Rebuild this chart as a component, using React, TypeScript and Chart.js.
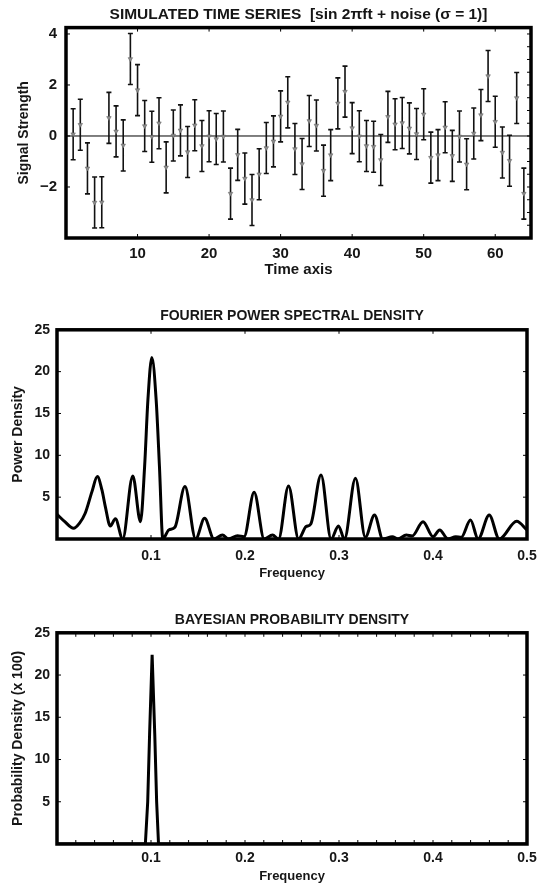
import React, { useEffect, useRef } from 'react';
import { Chart, registerables } from 'chart.js';

Chart.register(...registerables);

const FONT = "'Liberation Sans', Arial, Helvetica, sans-serif";
const INK = '#161616';

// ---------- Panel 1: simulated time series ----------
const TIME = [
  1, 2, 3, 4, 5, 6, 7, 8, 9, 10, 11, 12, 13, 14, 15, 16,
  17, 18, 19, 20, 21, 22, 23, 24, 25, 26, 27, 28, 29, 30, 31, 32,
  33, 34, 35, 36, 37, 38, 39, 40, 41, 42, 43, 44, 45, 46, 47, 48,
  49, 50, 51, 52, 53, 54, 55, 56, 57, 58, 59, 60, 61, 62, 63, 64,
];
const SIGNAL = [
  0.07, 0.44, -1.27, -2.61, -2.6, 0.71, 0.18, -0.37, 3.02, 1.8, 0.39, -0.03, 0.5, -1.23, 0.02, 0.22,
  -0.63, 0.42, -0.39, -0.01, -0.12, -0.02, -2.26, -0.74, -1.67, -2.51, -1.5, -0.47, -0.21, 0.77, 1.32, -0.51,
  -1.1, 0.59, 0.41, -1.36, -0.75, 1.28, 1.74, 0.31, -0.01, -0.39, -0.42, -0.94, 0.75, 0.46, 0.51, 0.3,
  0.08, 0.85, -0.85, -0.75, 0.34, -0.78, -0.02, -1.11, 0.1, 0.82, 2.35, 0.56, -0.65, -0.97, 1.49, -2.26,
];
const SIGMA = 1;
const TIME_TICKS = [10, 20, 30, 40, 50, 60];
const SIGNAL_TICKS = [-2, 0, 2, 4];
const SIGNAL_MINOR = [-3.5, -3, -2.5, -2, -1.5, -1, -0.5, 0, 0.5, 1, 1.5, 2, 2.5, 3, 3.5, 4];

// ---------- Panel 2: Fourier power spectral density ----------
const PSD_FREQ = [
  0, 0.008, 0.0176, 0.024, 0.03, 0.0372, 0.0429, 0.0478, 0.0514, 0.0567, 0.0621, 0.0699,
  0.0806, 0.0888, 0.0932, 0.0967, 0.1009, 0.1055, 0.109, 0.1126, 0.1189, 0.1254, 0.1361,
  0.1475, 0.157, 0.167, 0.176, 0.1826, 0.192, 0.199, 0.2097, 0.2204, 0.2293, 0.2357,
  0.2463, 0.257, 0.265, 0.27, 0.2809, 0.2916, 0.2994, 0.3058, 0.3175, 0.328, 0.3378,
  0.3466, 0.3567, 0.3627, 0.3716, 0.3778, 0.3894, 0.4, 0.4071, 0.416, 0.4242, 0.43,
  0.4399, 0.448, 0.4598, 0.4705, 0.489, 0.5,
];
const PSD_POWER = [
  2.95, 2.1, 1.28, 1.9, 3.07, 5.66, 7.46, 5.86, 3.87, 1.56, 2.43, 0,
  7.54, 2.07, 8.65, 16.6, 21.7, 16.6, 8.65, 0, 1.08, 1.4, 6.26,
  0, 2.47, 0, 0.48, 0, 0.4, 0.28, 5.58, 0, 0.48, 0,
  6.34, 0, 1.48, 1.8, 7.66, 0, 1.56, 0, 7.26, 0.2, 2.87,
  0, 0.28, 0, 0.48, 0.36, 2.07, 0.28, 1.08, 0, 0.28, 0.2,
  2.27, 0, 2.87, 0, 2.11, 1.08,
];

// ---------- Panel 3: Bayesian probability density ----------
const BAYES_FREQ = [0, 0.094, 0.0965, 0.0985, 0.1012, 0.104, 0.106, 0.108, 0.5];
const BAYES_PROB = [0, 0, 5, 13, 22.4, 13, 5, 0, 0];

const FREQ_TICKS = [0.1, 0.2, 0.3, 0.4, 0.5];
const FREQ_MINOR = [
  0.02, 0.04, 0.06, 0.08, 0.1, 0.12, 0.14, 0.16, 0.18, 0.2, 0.22, 0.24,
  0.26, 0.28, 0.3, 0.32, 0.34, 0.36, 0.38, 0.4, 0.42, 0.44, 0.46, 0.48,
];
const DENSITY_TICKS = [5, 10, 15, 20, 25];

// ---------- plugins ----------
const framePlugin = {
  id: 'frame',
  afterDatasetsDraw(chart: any, _args: any, opts: any) {
    const { ctx, chartArea, scales } = chart;
    const { left, right, top, bottom } = chartArea;
    const tl = opts.tickLen ?? 4;
    ctx.save();
    ctx.strokeStyle = '#000';
    ctx.lineWidth = 1;
    ctx.beginPath();
    for (const v of opts.xTop || []) {
      const px = scales.x.getPixelForValue(v);
      ctx.moveTo(px, top);
      ctx.lineTo(px, top + tl);
    }
    for (const v of opts.xBottom || []) {
      const px = scales.x.getPixelForValue(v);
      ctx.moveTo(px, bottom);
      ctx.lineTo(px, bottom - tl);
    }
    for (const v of opts.yLeft || []) {
      const py = scales.y.getPixelForValue(v);
      ctx.moveTo(left, py);
      ctx.lineTo(left + tl, py);
    }
    for (const v of opts.yRight || []) {
      const py = scales.y.getPixelForValue(v);
      ctx.moveTo(right, py);
      ctx.lineTo(right - tl, py);
    }
    ctx.stroke();
    ctx.lineWidth = 3.5;
    ctx.strokeRect(left, top, right - left, bottom - top);
    ctx.restore();
  },
};

const errorBarPlugin = {
  id: 'errorBars',
  beforeDatasetsDraw(chart: any) {
    const { ctx, chartArea, scales } = chart;
    const x = scales.x;
    const y = scales.y;
    ctx.save();
    ctx.strokeStyle = '#000';
    ctx.lineWidth = 1;
    const y0 = y.getPixelForValue(0);
    ctx.beginPath();
    ctx.moveTo(chartArea.left, y0);
    ctx.lineTo(chartArea.right, y0);
    ctx.stroke();
    ctx.strokeStyle = '#111';
    ctx.lineWidth = 1.6;
    ctx.beginPath();
    TIME.forEach((t, i) => {
      const px = x.getPixelForValue(t);
      const hi = y.getPixelForValue(SIGNAL[i] + SIGMA);
      const lo = y.getPixelForValue(SIGNAL[i] - SIGMA);
      ctx.moveTo(px, hi);
      ctx.lineTo(px, lo);
      ctx.moveTo(px - 2.5, hi);
      ctx.lineTo(px + 2.5, hi);
      ctx.moveTo(px - 2.5, lo);
      ctx.lineTo(px + 2.5, lo);
    });
    ctx.stroke();
    ctx.restore();
  },
};

const font = (size: number) => ({ family: FONT, size, weight: 'bold' as const });
const setTicks = (values: number[]) => (scale: any) => {
  scale.ticks = values.map((v) => ({ value: v }));
};
const minusFmt = (v: any) => (Number(v) < 0 ? '\u2212' + Math.abs(Number(v)) : String(v));
const fixHeight = (h: number) => (s: any) => {
  s.height = h;
  s.paddingLeft = 0;
  s.paddingRight = 0;
};
const fixWidth = (w: number) => (s: any) => {
  s.width = w;
  s.paddingTop = 0;
  s.paddingBottom = 0;
};

function makeTimeSeries(): any {
  return {
    type: 'scatter',
    data: {
      datasets: [
        {
          data: TIME.map((t, i) => ({ x: t, y: SIGNAL[i] })),
          pointStyle: 'triangle',
          rotation: 180,
          pointRadius: 2.6,
          backgroundColor: '#8c8c8c',
          borderColor: '#6a6a6a',
          borderWidth: 0.6,
        },
      ],
    },
    options: {
      animation: false,
      responsive: false,
      devicePixelRatio: 1,
      layout: { padding: { top: 0, left: 0, right: 7, bottom: 0 } },
      plugins: {
        legend: { display: false },
        tooltip: { enabled: false },
        title: {
          display: true,
          fullSize: false,
          text: 'SIMULATED TIME SERIES  [sin 2\u03C0ft + noise (\u03C3 = 1)]',
          color: INK,
          font: font(15.5),
          padding: { top: 5, bottom: 4 },
        },
        frame: {
          xTop: TIME_TICKS,
          xBottom: TIME_TICKS,
          yLeft: SIGNAL_TICKS,
          yRight: SIGNAL_MINOR,
          tickLen: 4,
        },
      },
      scales: {
        x: {
          type: 'linear',
          min: 0,
          max: 65,
          grid: { display: false, drawTicks: false },
          border: { display: false },
          afterBuildTicks: setTicks(TIME_TICKS),
          afterFit: fixHeight(47),
          ticks: { padding: 7, color: INK, font: font(15), autoSkip: false, maxRotation: 0 },
          title: { display: true, text: 'Time axis', color: INK, font: font(15), padding: { top: 0, bottom: 6 } },
        },
        y: {
          type: 'linear',
          min: -4,
          max: 4.25,
          grid: { display: false, drawTicks: false },
          border: { display: false },
          afterBuildTicks: setTicks(SIGNAL_TICKS),
          afterFit: fixWidth(66),
          ticks: { padding: 9, color: INK, font: font(15), callback: minusFmt },
          title: { display: true, text: 'Signal Strength', color: INK, font: font(14), padding: { top: 16, bottom: 0 } },
        },
      },
    },
    plugins: [errorBarPlugin, framePlugin],
  };
}

function makeFreqChart(opts: {
  title: string;
  yTitle: string;
  xs: number[];
  ys: number[];
  monotone: boolean;
  titlePad: { top: number; bottom: number };
  xHeight: number;
  tickPad: number;
  xTitlePad: number;
  minor: boolean;
}): any {
  return {
    type: 'line',
    data: {
      datasets: [
        {
          data: opts.xs.map((f, i) => ({ x: f, y: opts.ys[i] })),
          borderColor: '#000',
          borderWidth: 3,
          pointRadius: 0,
          fill: false,
          tension: 0,
          cubicInterpolationMode: opts.monotone ? 'monotone' : 'default',
        },
      ],
    },
    options: {
      animation: false,
      responsive: false,
      devicePixelRatio: 1,
      layout: { padding: { top: 0, left: 0, right: 11, bottom: 0 } },
      plugins: {
        legend: { display: false },
        tooltip: { enabled: false },
        title: {
          display: true,
          fullSize: false,
          text: opts.title,
          color: INK,
          font: font(14),
          padding: opts.titlePad,
        },
        frame: {
          xTop: opts.minor ? FREQ_MINOR : FREQ_TICKS,
          xBottom: opts.minor ? FREQ_MINOR : FREQ_TICKS,
          yLeft: DENSITY_TICKS,
          yRight: DENSITY_TICKS,
          tickLen: 4,
        },
      },
      scales: {
        x: {
          type: 'linear',
          min: 0,
          max: 0.5,
          grid: { display: false, drawTicks: false },
          border: { display: false },
          afterBuildTicks: setTicks(FREQ_TICKS),
          afterFit: fixHeight(opts.xHeight),
          ticks: {
            padding: opts.tickPad,
            color: INK,
            font: font(14),
            autoSkip: false,
            maxRotation: 0,
            callback: (v: any) => Number(v).toFixed(1),
          },
          title: { display: true, text: 'Frequency', color: INK, font: font(13), padding: { top: 0, bottom: opts.xTitlePad } },
        },
        y: {
          type: 'linear',
          min: 0,
          max: 25,
          grid: { display: false, drawTicks: false },
          border: { display: false },
          afterBuildTicks: setTicks(DENSITY_TICKS),
          afterFit: fixWidth(57),
          ticks: { padding: 7, color: INK, font: font(14) },
          title: { display: true, text: opts.yTitle, color: INK, font: font(14), padding: { top: 10, bottom: 0 } },
        },
      },
    },
    plugins: [framePlugin],
  };
}

function ChartCanvas({ top, height, make }: { top: number; height: number; make: () => any }) {
  const ref = useRef<HTMLCanvasElement | null>(null);
  useEffect(() => {
    if (!ref.current) return;
    const chart = new Chart(ref.current, make());
    return () => chart.destroy();
  }, []);
  return (
    <canvas
      ref={ref}
      width={538}
      height={height}
      style={{ position: 'absolute', left: 0, top, width: 538, height, display: 'block' }}
    />
  );
}

export default function App() {
  return (
    <div style={{ position: 'absolute', left: 0, top: 0, width: 538, height: 886, background: '#fff', overflow: 'hidden' }}>
      <ChartCanvas top={0} height={285} make={makeTimeSeries} />
      <ChartCanvas
        top={290}
        height={300}
        make={() =>
          makeFreqChart({
            title: 'FOURIER POWER SPECTRAL DENSITY',
            yTitle: 'Power Density',
            xs: PSD_FREQ,
            ys: PSD_POWER,
            monotone: true,
            titlePad: { top: 18, bottom: 5 },
            xHeight: 51,
            tickPad: 9,
            xTitlePad: 9,
            minor: false,
          })
        }
      />
      <ChartCanvas
        top={595}
        height={291}
        make={() =>
          makeFreqChart({
            title: 'BAYESIAN PROBABILITY DENSITY',
            yTitle: 'Probability Density (x 100)',
            xs: BAYES_FREQ,
            ys: BAYES_PROB,
            monotone: false,
            titlePad: { top: 17, bottom: 4 },
            xHeight: 42,
            tickPad: 6,
            xTitlePad: 2,
            minor: true,
          })
        }
      />
    </div>
  );
}
